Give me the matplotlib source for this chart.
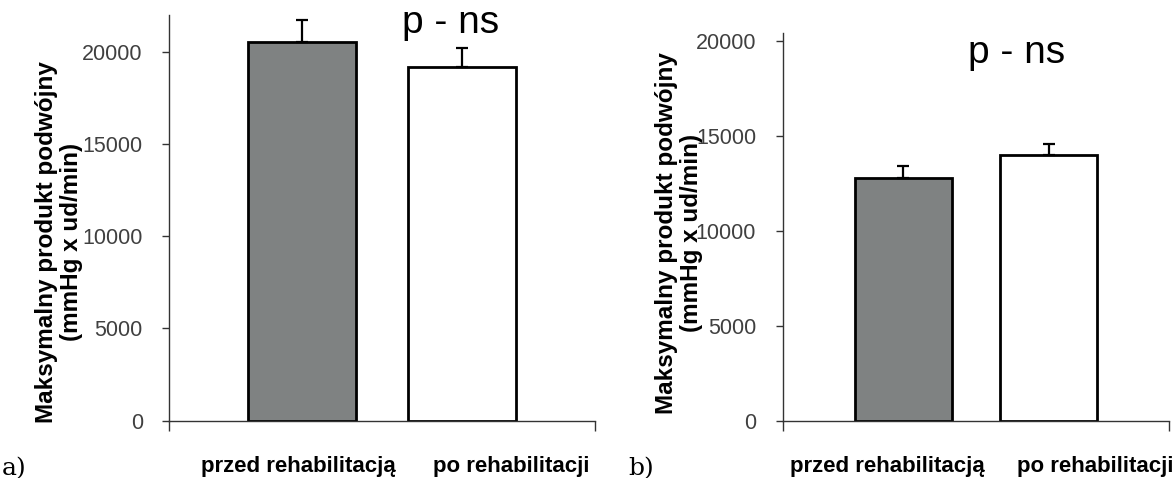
import matplotlib
matplotlib.use("Agg")
import matplotlib.pyplot as plt
import numpy as np

# data
categories = ["przed rehabilitacją", "po rehabilitacji"]
a_means = [20510, 19200]
a_errors = [1210, 1030]
b_means = [12760, 13980]
b_errors = [650, 580]
y_ticks = [0, 5000, 10000, 15000, 20000]
ylabel = "Maksymalny produkt podwójny\n(mmHg x ud/min)"
bar_colors = ["#7f8282", "#ffffff"]

W, H = 1176, 478
SANS = "Liberation Sans"


def fx(px):
    return px / W


def fy(py):
    return 1 - py / H


fig = plt.figure(figsize=(W / 100, H / 100), dpi=100)


def panel(left, right, top, ymax, means, errors):
    """one bar panel; left/right/top in pixels, zero line at y=420.7"""
    base = 420.7
    ax = fig.add_axes([fx(left), fy(base), (right - left) / W, (base - top) / H])
    x = np.arange(len(means))
    ax.bar(x, means, width=0.675, color=bar_colors, edgecolor="black", linewidth=2.0, zorder=2)
    ax.errorbar(x, means, yerr=[np.zeros(len(errors)), errors], fmt="none",
                ecolor="black", elinewidth=1.6, capsize=4.3, capthick=1.6, zorder=3)
    ax.set_xlim(-0.833, 1.833)
    ax.set_ylim(0, ymax)
    ax.spines["top"].set_visible(False)
    ax.spines["right"].set_visible(False)
    for s in ("left", "bottom"):
        ax.spines[s].set_color("#333333")
        ax.spines[s].set_linewidth(1.0)
    ax.set_yticks(y_ticks)
    ax.set_yticklabels([str(t) for t in y_ticks], family=SANS, fontsize=15.5, color="#404040")
    ax.tick_params(axis="y", length=5.4, width=1, color="#333333", pad=13.7)
    ax.set_xticks([-0.833, 1.833])
    ax.set_xticklabels(["", ""])
    ax.tick_params(axis="x", length=7, width=1, color="#333333", direction="out")
    return ax


ax_a = panel(169.3, 595, 15, 22000, a_means, a_errors)
ax_b = panel(782.7, 1169.3, 33, 20400, b_means, b_errors)

# y labels
for cx, cy in [(59, 242), (679, 233)]:
    fig.text(fx(cx), fy(cy), ylabel, rotation=90, ha="center", va="center",
             multialignment="center", fontsize=17.5, fontweight="bold",
             family=SANS, linespacing=1.15)

# p - ns
fig.text(fx(451), fy(33), "p - ns", ha="center", va="baseline", fontsize=28, family=SANS)
fig.text(fx(1016.5), fy(63), "p - ns", ha="center", va="baseline", fontsize=28, family=SANS)

# category labels
for centers in [(298, 511), (887, 1095)]:
    for cx, lab in zip(centers, categories):
        fig.text(fx(cx), fy(472), lab, ha="center", va="baseline", fontsize=16,
                 fontweight="bold", family=SANS)

# panel letters
fig.text(fx(2), fy(475), "a)", ha="left", va="baseline", fontsize=18, family="DejaVu Serif")
fig.text(fx(628), fy(475), "b)", ha="left", va="baseline", fontsize=18, family="DejaVu Serif")

fig.savefig("out.png", dpi=100)
